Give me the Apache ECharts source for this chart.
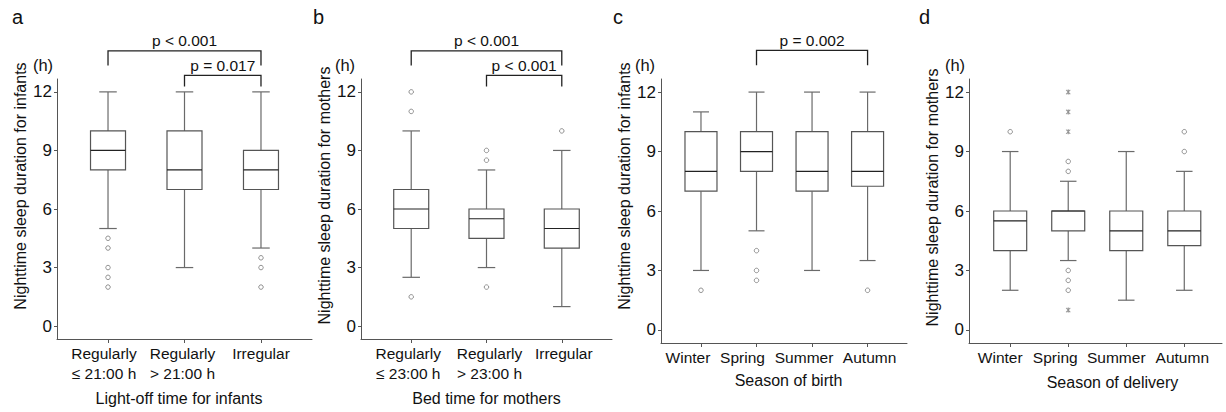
<!DOCTYPE html>
<html>
<head>
<meta charset="utf-8">
<style>
  html, body { margin: 0; padding: 0; background: #fff; }
  #chart { width: 1226px; height: 412px; }
</style>
<script src="https://cdn.jsdelivr.net/npm/echarts@6/dist/echarts.min.js"></script>
</head>
<body>
<div id="chart"></div>
<script>
// y ticks shared by all panels
const yTicks = [0, 3, 6, 9, 12];

// a - light-off time for infants
const catsA = ['Regularly\n≤ 21:00 h', 'Regularly\n> 21:00 h', 'Irregular'];
// [min, Q1, median, Q3, max]
const boxesA = [[5, 8, 9, 10, 12], [3, 7, 8, 10, 12], [4, 7, 8, 9, 12]];
const outliersA = [[0, 4.5], [0, 4], [0, 3], [0, 2.5], [0, 2], [2, 3.5], [2, 3], [2, 2]];
// [from, to, bar level, end of drop]
const bracketsA = [[0, 2, 14.1, 13.35], [1, 2, 12.85, 12.27]];
const pLabelsA = ['p < 0.001', 'p = 0.017'];

// b - bed time for mothers
const catsB = ['Regularly\n≤ 23:00 h', 'Regularly\n> 23:00 h', 'Irregular'];
const boxesB = [[2.5, 5, 6, 7, 10], [3, 4.5, 5.5, 6, 8], [1, 4, 5, 6, 9]];
const outliersB = [[0, 12], [0, 11], [0, 1.5], [1, 9], [1, 8.5], [1, 2], [2, 10]];
const bracketsB = [[0, 2, 14.1, 13.35], [1, 2, 12.85, 12.27]];
const pLabelsB = ['p < 0.001', 'p < 0.001'];

// c - season of birth
const catsC = ['Winter', 'Spring', 'Summer', 'Autumn'];
const boxesC = [[3, 7, 8, 10, 11], [5, 8, 9, 10, 12], [3, 7, 8, 10, 12], [3.5, 7.25, 8, 10, 12]];
const outliersC = [[0, 2], [1, 4], [1, 3], [1, 2.5], [3, 2]];
const bracketsC = [[1, 3, 14.1, 13.35]];
const pLabelsC = ['p = 0.002'];

// d - season of delivery
const catsD = ['Winter', 'Spring', 'Summer', 'Autumn'];
const boxesD = [[2, 4, 5.5, 6, 9], [3.5, 5, 6, 6, 7.5], [1.5, 4, 5, 6, 9], [2, 4.25, 5, 6, 8]];
const outliersD = [[0, 10], [1, 8.5], [1, 8], [1, 3], [1, 2.5], [1, 2], [3, 10], [3, 9]];
const extremesD = [[1, 12], [1, 11], [1, 10], [1, 1]];

const FONT = '"Liberation Sans", Arial, sans-serif';
const ASTERISK = 'path://M4.3 0H5.7V10H4.3Z M3.106 0.32L8.106 8.98L6.894 9.68L1.894 1.02Z M6.894 0.32L8.106 1.02L3.106 9.68L1.894 8.98Z';

const panels = [
    { letter: 'a', cats: catsA, boxes: boxesA, outliers: outliersA, extremes: [], brackets: bracketsA, pLabels: pLabelsA,
      xTitle: 'Light-off time for infants', yTitle: 'Nighttime sleep duration for infants',
      left: 57, width: 255, xMin: -0.667, xMax: 2.667, boxW: 35, xNameGap: 50, xNamePad: [0, 11, 0, 0], yNamePad: 46,
      labelShift: [-4, -2, 0], letterX: 12, hX: 43 },
    { letter: 'b', cats: catsB, boxes: boxesB, outliers: outliersB, extremes: [], brackets: bracketsB, pLabels: pLabelsB,
      xTitle: 'Bed time for mothers', yTitle: 'Nighttime sleep duration for mothers',
      left: 361, width: 251, xMin: -0.667, xMax: 2.667, boxW: 35, xNameGap: 50, xNamePad: [0, 0, 0, 0], yNamePad: 27,
      labelShift: [-3, 3, 2], letterX: 313, hX: 345 },
    { letter: 'c', cats: catsC, boxes: boxesC, outliers: outliersC, extremes: [], brackets: bracketsC, pLabels: pLabelsC,
      xTitle: 'Season of birth', yTitle: 'Nighttime sleep duration for infants',
      left: 661, width: 246, xMin: -0.72, xMax: 3.71, boxW: 32, xNameGap: 28, xNamePad: [0, 0, 0, 9], yNamePad: 50,
      labelShift: [-13, -14, -8, 2], letterX: 613, hX: 645 },
    { letter: 'd', cats: catsD, boxes: boxesD, outliers: outliersD, extremes: extremesD, brackets: [], pLabels: [],
      xTitle: 'Season of delivery', yTitle: 'Nighttime sleep duration for mothers',
      left: 969, width: 253, xMin: -0.71, xMax: 3.65, boxW: 33, xNameGap: 30, xNamePad: [0, 0, 0, 34], yNamePad: 27,
      labelShift: [-10, -13, -10, -2], letterX: 919, hX: 955 }
];

function line(x1, y1, x2, y2, stroke) {
    return { type: 'line', shape: { x1: x1, y1: y1, x2: x2, y2: y2 }, style: { stroke: stroke, lineWidth: 1.2 } };
}

// box with half-width whisker caps
function renderBox(boxW) {
    return function (params, api) {
        const x = api.value(0);
        const p = [1, 2, 3, 4, 5].map(function (i) { return api.coord([x, api.value(i)]); });
        const cx = p[0][0];
        const half = boxW / 2;
        const cap = boxW / 4;
        return {
            type: 'group',
            children: [
                line(cx, p[3][1], cx, p[4][1], '#6a6a6a'),
                line(cx, p[0][1], cx, p[1][1], '#6a6a6a'),
                line(cx - cap, p[4][1], cx + cap, p[4][1], '#6a6a6a'),
                line(cx - cap, p[0][1], cx + cap, p[0][1], '#6a6a6a'),
                { type: 'rect', shape: { x: cx - half, y: p[3][1], width: boxW, height: p[1][1] - p[3][1] },
                  style: { fill: '#fff', stroke: '#555', lineWidth: 1.2 } },
                line(cx - half, p[2][1], cx + half, p[2][1], '#222')
            ]
        };
    };
}

function renderBracket(labels) {
    return function (params, api) {
        const a = api.coord([api.value(0), api.value(2)]);
        const b = api.coord([api.value(1), api.value(2)]);
        const dropY = api.coord([api.value(0), api.value(3)])[1];
        return {
            type: 'group',
            children: [
                { type: 'polyline', shape: { points: [[a[0], dropY], [a[0], a[1]], [b[0], b[1]], [b[0], dropY]] },
                  style: { stroke: '#222', fill: null, lineWidth: 1.3 } },
                { type: 'text', style: { text: labels[params.dataIndex], x: (a[0] + b[0]) / 2, y: a[1] - 2,
                  align: 'center', verticalAlign: 'bottom', font: '15.5px ' + FONT, fill: '#111' } }
            ]
        };
    };
}

const grid = [], xAxis = [], yAxis = [], series = [], graphic = [];
panels.forEach(function (pn, i) {
    const ticksX = pn.cats.map(function (c, k) { return k; });
    // blank labels at both ends so no real category is treated as the min/max label
    const labelsX = [pn.xMin].concat(ticksX, [pn.xMax]);
    // labels sit a little off their ticks in the original figure
    const rich = {};
    pn.labelShift.forEach(function (s, k) {
        rich['s' + k] = { fontFamily: FONT, fontSize: 15.5, color: '#111', lineHeight: 20,
                          padding: s < 0 ? [0, -2 * s, 0, 0] : [0, 0, 0, 2 * s] };
    });
    grid.push({ left: pn.left, width: pn.width, top: 79, height: 264 });
    xAxis.push({
        type: 'value', gridIndex: i, min: pn.xMin, max: pn.xMax,
        name: pn.xTitle, nameLocation: 'middle', nameGap: pn.xNameGap,
        nameTextStyle: { fontFamily: FONT, fontSize: 16, color: '#111', lineHeight: 18, padding: pn.xNamePad },
        axisLine: { onZero: false, lineStyle: { color: '#555', width: 1 } },
        axisTick: { length: 4, lineStyle: { color: '#555' }, customValues: ticksX },
        axisLabel: { fontFamily: FONT, fontSize: 15.5, color: '#111', lineHeight: 20, margin: 4, hideOverlap: false,
                     customValues: labelsX, rich: rich,
                     formatter: function (v) {
                         const k = Math.round(v);
                         if (Math.abs(v - k) > 1e-6 || !pn.cats[k]) return '';
                         return pn.cats[k].split('\n').map(function (t) { return '{s' + k + '|' + t + '}'; }).join('\n');
                     } },
        splitLine: { show: false }
    });
    yAxis.push({
        type: 'value', gridIndex: i, min: -0.66, max: 12.66,
        name: pn.yTitle, nameLocation: 'middle', nameGap: 28,
        nameTextStyle: { fontFamily: FONT, fontSize: 16, color: '#111', lineHeight: 18, padding: [0, 0, 0, pn.yNamePad] },
        axisLine: { onZero: false, lineStyle: { color: '#555', width: 1 } },
        axisTick: { length: 3, lineStyle: { color: '#555' }, customValues: yTicks },
        axisLabel: { fontFamily: FONT, fontSize: 17, color: '#111', margin: 5, customValues: yTicks },
        splitLine: { show: false }
    });
    series.push({
        type: 'custom', xAxisIndex: i, yAxisIndex: i, clip: false,
        renderItem: renderBox(pn.boxW),
        data: pn.boxes.map(function (b, k) { return [k].concat(b); })
    });
    series.push({
        type: 'scatter', xAxisIndex: i, yAxisIndex: i, symbol: 'circle', symbolSize: 4.5,
        itemStyle: { color: '#fff', borderColor: '#777', borderWidth: 1 },
        data: pn.outliers
    });
    if (pn.extremes.length) {
        series.push({
            type: 'scatter', xAxisIndex: i, yAxisIndex: i, symbol: ASTERISK, symbolSize: 5,
            itemStyle: { color: '#777' },
            data: pn.extremes
        });
    }
    if (pn.brackets.length) {
        series.push({
            type: 'custom', xAxisIndex: i, yAxisIndex: i, clip: false,
            renderItem: renderBracket(pn.pLabels),
            data: pn.brackets
        });
    }
    graphic.push({ type: 'text', x: pn.letterX, y: 17, style: { text: pn.letter, font: '20px ' + FONT, fill: '#111', verticalAlign: 'middle' } });
    graphic.push({ type: 'text', x: pn.hX, y: 65, style: { text: '(h)', font: '16.5px ' + FONT, fill: '#111', align: 'center', verticalAlign: 'middle' } });
});

const chart = echarts.init(document.getElementById('chart'), null, { renderer: 'svg' });
chart.setOption({
    animation: false,
    backgroundColor: '#fff',
    grid: grid,
    xAxis: xAxis,
    yAxis: yAxis,
    series: series,
    graphic: graphic
});
</script>
</body>
</html>
